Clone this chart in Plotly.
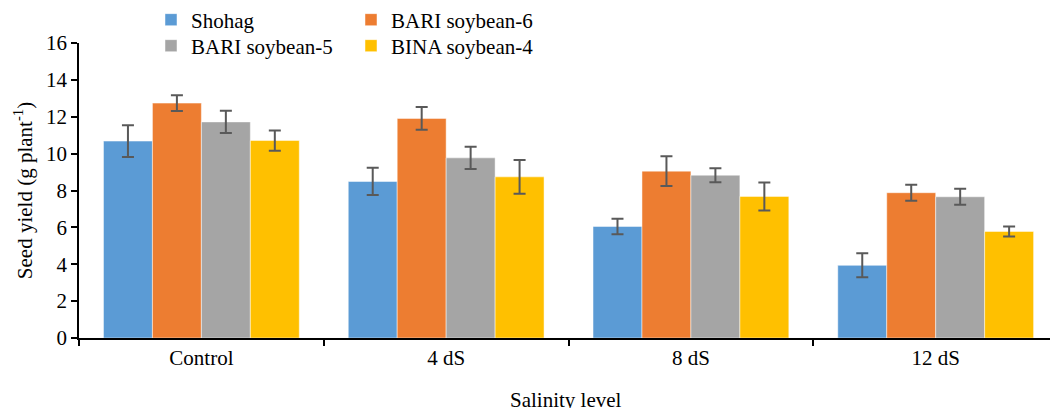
import plotly.graph_objects as go

categories = ["Control", "4 dS", "8 dS", "12 dS"]
series_names = ["Shohag", "BARI soybean-6", "BARI soybean-5", "BINA soybean-4"]
shohag = [10.68, 8.49, 6.05, 3.94]
bari6 = [12.74, 11.91, 9.05, 7.88]
bari5 = [11.72, 9.77, 8.83, 7.66]
bina4 = [10.71, 8.74, 7.68, 5.78]
shohag_err = [0.86, 0.74, 0.42, 0.65]
bari6_err = [0.43, 0.62, 0.81, 0.43]
bari5_err = [0.60, 0.60, 0.38, 0.43]
bina4_err = [0.55, 0.92, 0.76, 0.27]
colors = ["#5B9BD5", "#ED7D31", "#A5A5A5", "#FFC000"]
x_title = "Salinity level"
y_title = "Seed yield (g plant<sup>-1</sup>)"

values = [shohag, bari6, bari5, bina4]
errors = [shohag_err, bari6_err, bari5_err, bina4_err]
legends = ["legend", "legend", "legend2", "legend2"]

FONT = "Liberation Serif"

fig = go.Figure()
for name, v, e, c, lg in zip(series_names, values, errors, colors, legends):
    fig.add_trace(go.Bar(
        x=categories, y=v, name=name, legend=lg,
        marker=dict(color=c, line=dict(color="rgba(255,255,255,0.6)", width=0.8)),
        error_y=dict(type="data", array=e, visible=True, color="#595959",
                     thickness=2, width=6),
    ))

ml, mr, mt, mb = 79, 0, 43, 70
W, H = 1050, 408
pw = W - ml - mr
ph = H - mt - mb

def px_x(p):
    return (p - ml) / pw

def px_y(p):
    return (H - mb - p) / ph

fig.update_layout(
    width=W, height=H,
    margin=dict(l=ml, r=mr, t=mt, b=mb, autoexpand=False),
    barmode="group", bargap=0.2, bargroupgap=0,
    plot_bgcolor="white", paper_bgcolor="white",
    font=dict(family=FONT, size=21, color="#000000"),
    legend=dict(orientation="h", x=px_x(151), y=px_y(20), xanchor="left", yanchor="middle",
                entrywidth=155, entrywidthmode="pixels", bgcolor="rgba(0,0,0,0)",
                font=dict(family=FONT, size=21), tracegroupgap=0, itemclick=False),
    legend2=dict(orientation="h", x=px_x(151), y=px_y(46), xanchor="left", yanchor="middle",
                 entrywidth=155, entrywidthmode="pixels", bgcolor="rgba(0,0,0,0)",
                 font=dict(family=FONT, size=21), tracegroupgap=0, itemclick=False),
    xaxis=dict(
        range=[-0.5, 3.467], showline=True, linecolor="#000000", linewidth=1.5,
        ticks="outside", tickson="boundaries", ticklen=6, tickcolor="#000000", tickwidth=1.5,
        showgrid=False, zeroline=False, automargin=False,
        tickfont=dict(family=FONT, size=21),
    ),
    yaxis=dict(
        range=[0, 16], dtick=2, showline=True, linecolor="#000000", linewidth=1.5,
        ticks="outside", ticklen=6, tickcolor="#000000", tickwidth=1.5,
        showgrid=False, zeroline=False, automargin=False,
        title=dict(text=y_title, standoff=8, font=dict(family=FONT, size=21)),
        tickfont=dict(family=FONT, size=21),
    ),
    annotations=[dict(text=x_title, xref="paper", yref="paper", x=px_x(566), y=px_y(400),
                      xanchor="center", yanchor="middle", showarrow=False,
                      font=dict(family=FONT, size=21, color="#000000"))],
)

fig.write_html("out.html")
